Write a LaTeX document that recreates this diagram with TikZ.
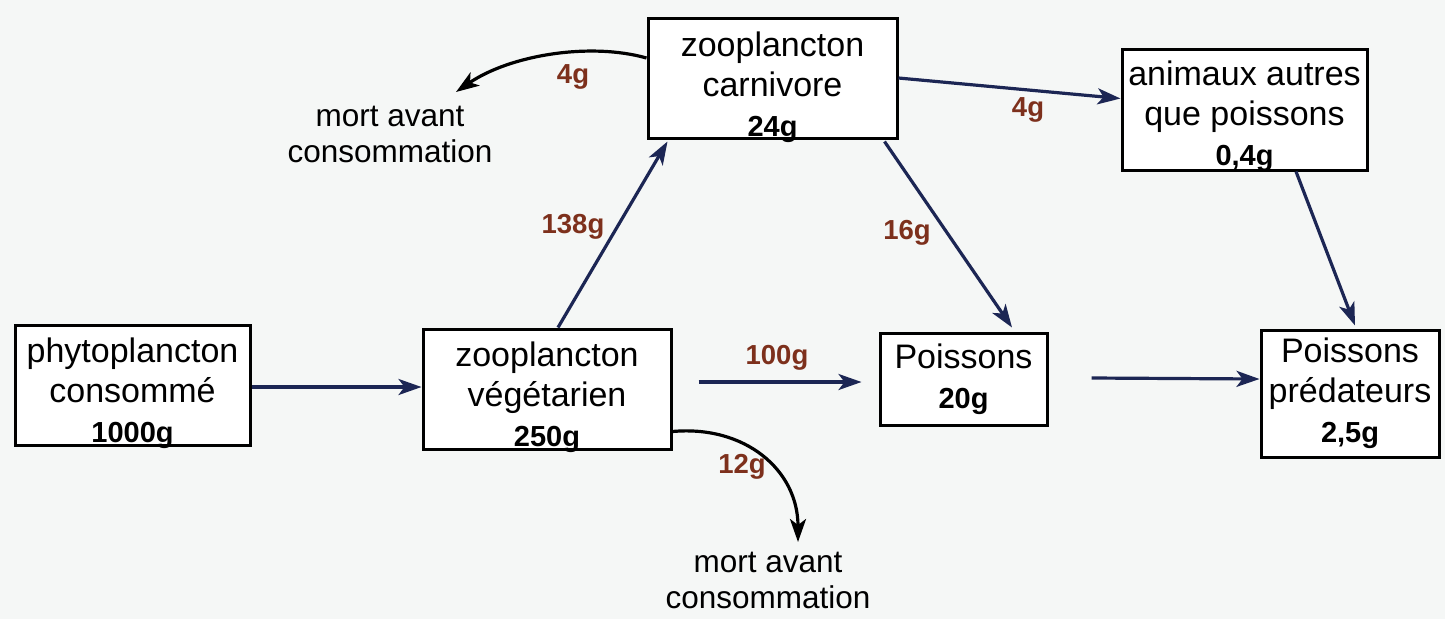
\documentclass[tikz,border=0pt]{standalone}
\usepackage{fontspec}
\setmainfont{Liberation Sans}
\usetikzlibrary{arrows.meta}
\definecolor{navy}{RGB}{28,38,84}
\definecolor{brownlbl}{RGB}{125,48,28}
\definecolor{bgc}{RGB}{245,247,246}
\newcommand\wt[1]{{\fontsize{29}{39}\selectfont\bfseries #1}}
\newcommand\wtl[1]{\raisebox{0pt}[\height][0pt]{\wt{#1}}}
\newcommand\topstrut{\rule{0pt}{34pt}}
\begin{document}
\begin{tikzpicture}[x=1pt,y=-1pt,
  box/.style={draw=black,line width=3pt,fill=white,align=center,
    font=\fontsize{34}{40}\selectfont,inner sep=0pt},
  lbl/.style={text=brownlbl,font=\fontsize{27.5}{32}\selectfont\bfseries,inner sep=0pt},
  mort/.style={align=center,font=\fontsize{31.5}{36}\selectfont,inner sep=0pt},
  arr/.style={draw=navy,line width=3.2pt,-{Stealth[length=23pt,width=16pt,inset=6pt]}},
  crv/.style={draw=black,line width=3.2pt,-{Stealth[length=23pt,width=16pt,inset=6pt]}}]
\useasboundingbox (0,0) rectangle (1445,619);
\fill[bgc] (0,0) rectangle (1445,619);

\node[box,minimum width=235pt,minimum height=120pt] (phyto) at (132.5,385)
  {\topstrut phytoplancton\\consommé\\\wtl{1000g}};
\node[box,minimum width=248pt,minimum height=120pt] (veg) at (547,389)
  {\topstrut zooplancton\\végétarien\\\wtl{250g}};
\node[box,minimum width=249pt,minimum height=120pt] (carn) at (772.5,78)
  {\rule{0pt}{36pt}zooplancton\\carnivore\\\wtl{24g}};
\node[box,minimum width=245pt,minimum height=121pt] (anim) at (1244.5,109.5)
  {\rule{0pt}{31pt}animaux autres\\que poissons\\\wtl{0,4g}};
\node[box,minimum width=178pt,minimum height=127pt] (pred) at (1350,393.5)
  {Poissons\\prédateurs\\\wt{2,5g}};
\node[box,minimum width=167pt,minimum height=92pt] (pois) at (963.5,379)
  {Poissons\\\wt{20g}};

\node[mort] (mort1) at (390,134) {mort avant\\consommation};
\node[mort] (mort2) at (768,580) {mort avant\\consommation};

\node[lbl] (l4a) at (573,77) {4g};
\node[lbl] (l4b) at (1028,110) {4g};
\node[lbl] (l138) at (573,227) {138g};
\node[lbl] (l16) at (907,233) {16g};
\node[lbl] (l100) at (777,358) {100g};
\node[lbl] (l12) at (742,467) {12g};

\draw[arr] ([shift={(0,2)}]phyto.east) -- ([shift={(0,-2)}]veg.west);
\draw[arr] ([shift={(11,0)}]veg.north) -- ([shift={(21,2)}]carn.south west);
\draw[arr] (carn.east) -- ([shift={(0,-11)}]anim.west);
\draw[arr] ([shift={(-14,2)}]carn.south east) -- ([shift={(48.5,-4)}]pois.north);
\draw[arr] ([shift={(26,-7)}]veg.east) -- ([shift={(-17,3)}]pois.west);
\draw[arr] ([shift={(43,-1)}]pois.east) -- ([shift={(0,-14.5)}]pred.west);
\draw[arr] ([shift={(51.5,0)}]anim.south) -- ([shift={(5,-3)}]pred.north);

\draw[crv] ([shift={(0,-20)}]carn.west) .. controls (590,42) and (510,55) .. ([shift={(66,-42)}]mort1.center);
\draw[crv] ([shift={(0,-19)}]veg.south east) .. controls (745,425) and (798,470) .. ([shift={(30,-38)}]mort2.center);
\end{tikzpicture}
\end{document}
